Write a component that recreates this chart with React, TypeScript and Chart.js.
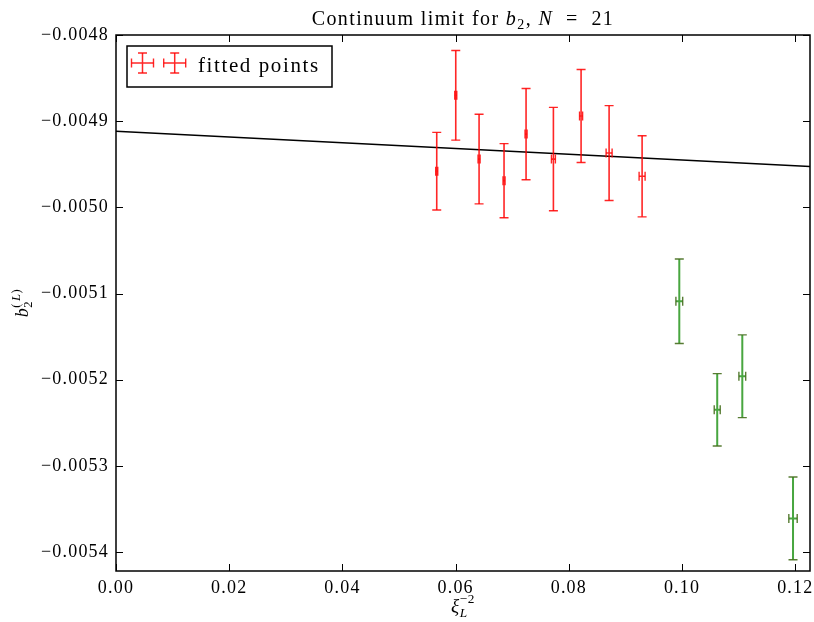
import React, { useEffect, useRef } from 'react';
import { Chart, registerables } from 'chart.js';

Chart.register(...registerables);

// ---- data ----
const fittedX = [0.05666, 0.06002, 0.06414, 0.06855, 0.07244, 0.07727, 0.08216, 0.08711, 0.09294];
const fittedY = [-0.004958, -0.004870, -0.004944, -0.004969, -0.004915, -0.004944, -0.004894, -0.004937, -0.004964];
const fittedYErr = [0.000045, 0.000052, 0.000052, 0.000043, 0.000053, 0.000060, 0.000054, 0.000055, 0.000047];
const fittedXErr = [0.00018, 0.00018, 0.00018, 0.00018, 0.00018, 0.00035, 0.00027, 0.00053, 0.00053];

const otherX = [0.09951, 0.10621, 0.11064, 0.11960];
const otherY = [-0.005109, -0.005235, -0.005196, -0.005361];
const otherYErr = [0.000049, 0.000042, 0.000048, 0.000048];
const otherXErr = [0.0006, 0.00053, 0.0006, 0.00074];

const fitLineX = [0, 0.1226];
const fitLineY = [-0.0049116, -0.0049527];

const xTicks = [0, 0.02, 0.04, 0.06, 0.08, 0.1, 0.12];
const yTicks = [-0.0048, -0.0049, -0.005, -0.0051, -0.0052, -0.0053, -0.0054];

const X_MIN = 0;
const X_MAX = 0.1226;
const Y_MIN = -0.005422;
const Y_MAX = -0.0048;

const LEGEND_LABEL = 'fitted points';

type Seg = { text: string; italic?: boolean; shift?: number; scale?: number; stack?: boolean };

const TITLE_SEGS: Seg[] = [
  { text: 'Continuum limit for ' },
  { text: 'b', italic: true },
  { text: '2', shift: 0.22, scale: 0.7 },
  { text: ', ' },
  { text: 'N', italic: true },
  { text: '  =  21' },
];
const XLABEL_SEGS: Seg[] = [
  { text: 'ξ', italic: true },
  { text: 'L', italic: true, shift: 0.25, scale: 0.7, stack: true },
  { text: '−2', shift: -0.45, scale: 0.7 },
];
const YLABEL_SEGS: Seg[] = [
  { text: 'b', italic: true },
  { text: '2', shift: 0.22, scale: 0.7, stack: true },
  { text: '(', shift: -0.45, scale: 0.7 },
  { text: 'L', italic: true, shift: -0.45, scale: 0.7 },
  { text: ')', shift: -0.45, scale: 0.7 },
];

const FONT = '"Liberation Serif", "DejaVu Serif", serif';
const RED_BAR = 'rgba(255,0,0,0.85)';
const GREEN_BAR = 'rgba(40,150,30,0.85)';
const GREEN_CAP = 'rgba(70,110,30,0.9)';

function fontFor(s: Seg, size: number) {
  return `${s.italic ? 'italic ' : ''}${Math.round(size * (s.scale || 1) * 10) / 10}px ${FONT}`;
}

function drawRich(
  ctx: CanvasRenderingContext2D,
  segs: Seg[],
  x: number,
  y: number,
  size: number,
  spacing: number
) {
  (ctx as any).letterSpacing = `${spacing}px`;
  const widths = segs.map((s) => {
    ctx.font = fontFor(s, size);
    return ctx.measureText(s.text).width;
  });
  let total = 0;
  let pending = 0;
  segs.forEach((s, i) => {
    if (s.stack) {
      pending = widths[i];
    } else {
      total += Math.max(pending, widths[i]);
      pending = 0;
    }
  });
  let cx = x - total / 2;
  let stackStart = 0;
  let stackW = 0;
  let inStack = false;
  ctx.textAlign = 'left';
  ctx.textBaseline = 'alphabetic';
  segs.forEach((s, i) => {
    ctx.font = fontFor(s, size);
    if (s.stack) {
      ctx.fillText(s.text, cx, y + (s.shift || 0) * size);
      stackStart = cx;
      stackW = widths[i];
      inStack = true;
    } else if (inStack) {
      ctx.fillText(s.text, stackStart, y + (s.shift || 0) * size);
      cx = stackStart + Math.max(stackW, widths[i]);
      inStack = false;
    } else {
      ctx.fillText(s.text, cx, y + (s.shift || 0) * size);
      cx += widths[i];
    }
  });
}

function drawErrCross(
  ctx: CanvasRenderingContext2D,
  px: number,
  py: number,
  dxl: number,
  dxr: number,
  dyt: number,
  dyb: number,
  cap: number,
  bar: string,
  capColor: string,
  lw: number
) {
  ctx.strokeStyle = bar;
  ctx.lineWidth = lw;
  ctx.beginPath();
  ctx.moveTo(px, dyt);
  ctx.lineTo(px, dyb);
  ctx.moveTo(dxl, py);
  ctx.lineTo(dxr, py);
  ctx.stroke();
  ctx.strokeStyle = capColor;
  ctx.lineWidth = 1.4;
  ctx.beginPath();
  ctx.moveTo(px - cap, dyt);
  ctx.lineTo(px + cap, dyt);
  ctx.moveTo(px - cap, dyb);
  ctx.lineTo(px + cap, dyb);
  ctx.moveTo(dxl, py - cap);
  ctx.lineTo(dxl, py + cap);
  ctx.moveTo(dxr, py - cap);
  ctx.lineTo(dxr, py + cap);
  ctx.stroke();
}

const spacingPlugin = {
  id: 'spacing',
  beforeDraw(chart: any) {
    (chart.ctx as any).letterSpacing = '1.2px';
  },
};

const decorPlugin = {
  id: 'decor',
  afterDatasetsDraw(chart: any) {
    const ctx: CanvasRenderingContext2D = chart.ctx;
    const xs = chart.scales.x;
    const ys = chart.scales.y;
    const area = chart.chartArea;
    ctx.save();
    // error bars
    chart.data.datasets.forEach((ds: any) => {
      if (!ds.errY) return;
      ds.data.forEach((p: any, i: number) => {
        const px = xs.getPixelForValue(p.x);
        const py = ys.getPixelForValue(p.y);
        drawErrCross(
          ctx,
          px,
          py,
          xs.getPixelForValue(p.x - ds.errX[i]),
          xs.getPixelForValue(p.x + ds.errX[i]),
          ys.getPixelForValue(p.y + ds.errY[i]),
          ys.getPixelForValue(p.y - ds.errY[i]),
          4.5,
          ds.barColor,
          ds.capColor,
          ds.barWidth
        );
      });
    });

    // frame
    ctx.strokeStyle = '#000';
    ctx.lineWidth = 1.5;
    ctx.strokeRect(area.left, area.top, area.right - area.left, area.bottom - area.top);

    // inward ticks on all sides
    ctx.lineWidth = 1;
    ctx.beginPath();
    const tl = 7;
    xTicks.forEach((v) => {
      const px = Math.round(xs.getPixelForValue(v)) + 0.5;
      ctx.moveTo(px, area.bottom);
      ctx.lineTo(px, area.bottom - tl);
      ctx.moveTo(px, area.top);
      ctx.lineTo(px, area.top + tl);
    });
    yTicks.forEach((v) => {
      const py = Math.round(ys.getPixelForValue(v)) + 0.5;
      ctx.moveTo(area.left, py);
      ctx.lineTo(area.left + tl, py);
      ctx.moveTo(area.right, py);
      ctx.lineTo(area.right - tl, py);
    });
    ctx.stroke();

    // legend
    const lx = area.left + 11;
    const ly = area.top + 11;
    ctx.fillStyle = '#fff';
    ctx.fillRect(lx, ly, 205, 41);
    ctx.strokeStyle = '#000';
    ctx.lineWidth = 1.5;
    ctx.strokeRect(lx, ly, 205, 41);
    [15.5, 47.7].forEach((off) => {
      const cx = lx + off;
      const cy = ly + 17;
      drawErrCross(ctx, cx, cy, cx - 11, cx + 11, cy - 10, cy + 10, 4.5, RED_BAR, RED_BAR, 1.5);
    });
    ctx.fillStyle = '#000';
    (ctx as any).letterSpacing = '1.6px';
    ctx.font = `21px ${FONT}`;
    ctx.textAlign = 'left';
    ctx.textBaseline = 'alphabetic';
    ctx.fillText(LEGEND_LABEL, lx + 71, ly + 26);

    // title
    const midX = (area.left + area.right) / 2;
    ctx.fillStyle = '#000';
    drawRich(ctx, TITLE_SEGS, midX, 25, 20, 1.4);
    // x label
    drawRich(ctx, XLABEL_SEGS, midX, 612, 19, 0.5);
    // y label
    ctx.save();
    ctx.translate(28, (area.top + area.bottom) / 2);
    ctx.rotate(-Math.PI / 2);
    drawRich(ctx, YLABEL_SEGS, 0, 0, 18, 0.5);
    ctx.restore();

    ctx.restore();
  },
};

export default function App() {
  const ref = useRef<HTMLCanvasElement | null>(null);
  useEffect(() => {
    document.body.style.margin = '0';
    if (!ref.current) return;
    const chart = new Chart(ref.current, {
      type: 'scatter',
      data: {
        datasets: [
          {
            type: 'line',
            label: 'fit',
            data: fitLineX.map((x, i) => ({ x, y: fitLineY[i] })),
            borderColor: '#000',
            borderWidth: 1.5,
            pointRadius: 0,
            showLine: true,
            fill: false,
          } as any,
          {
            label: LEGEND_LABEL,
            data: fittedX.map((x, i) => ({ x, y: fittedY[i] })),
            pointRadius: 0,
            errX: fittedXErr,
            errY: fittedYErr,
            barColor: RED_BAR,
            capColor: RED_BAR,
            barWidth: 1.6,
          } as any,
          {
            label: 'other points',
            data: otherX.map((x, i) => ({ x, y: otherY[i] })),
            pointRadius: 0,
            errX: otherXErr,
            errY: otherYErr,
            barColor: GREEN_BAR,
            capColor: GREEN_CAP,
            barWidth: 2,
          } as any,
        ],
      },
      options: {
        animation: false,
        responsive: true,
        maintainAspectRatio: false,
        layout: { padding: { top: 35, right: 4, bottom: 0, left: 0 } },
        plugins: {
          legend: { display: false },
          title: { display: false },
          tooltip: { enabled: false },
        },
        events: [],
        scales: {
          x: {
            type: 'linear',
            min: X_MIN,
            max: X_MAX,
            grid: { display: false, drawTicks: false },
            border: { display: false },
            afterBuildTicks: (axis: any) => {
              axis.ticks = xTicks.map((v) => ({ value: v }));
            },
            afterFit: (scale: any) => {
              scale.height = 51;
              scale.paddingLeft = 0;
              scale.paddingRight = 0;
            },
            ticks: {
              color: '#000',
              font: { family: FONT, size: 18 },
              padding: 6,
              maxRotation: 0,
              autoSkip: false,
              callback: (v: any) => Number(v).toFixed(2),
            },
          },
          y: {
            type: 'linear',
            min: Y_MIN,
            max: Y_MAX,
            grid: { display: false, drawTicks: false },
            border: { display: false },
            afterBuildTicks: (axis: any) => {
              axis.ticks = yTicks.map((v) => ({ value: v }));
            },
            afterFit: (scale: any) => {
              scale.width = 116;
              scale.paddingTop = 0;
              scale.paddingBottom = 0;
            },
            ticks: {
              color: '#000',
              font: { family: FONT, size: 18 },
              padding: 7,
              autoSkip: false,
              callback: (v: any) => (Number(v) < 0 ? '−' : '') + Math.abs(Number(v)).toFixed(4),
            },
          },
        },
      } as any,
      plugins: [spacingPlugin, decorPlugin],
    });
    return () => chart.destroy();
  }, []);
  return (
    <div style={{ position: 'fixed', left: 0, top: 0, width: 814, height: 622 }}>
      <canvas ref={ref} />
    </div>
  );
}
